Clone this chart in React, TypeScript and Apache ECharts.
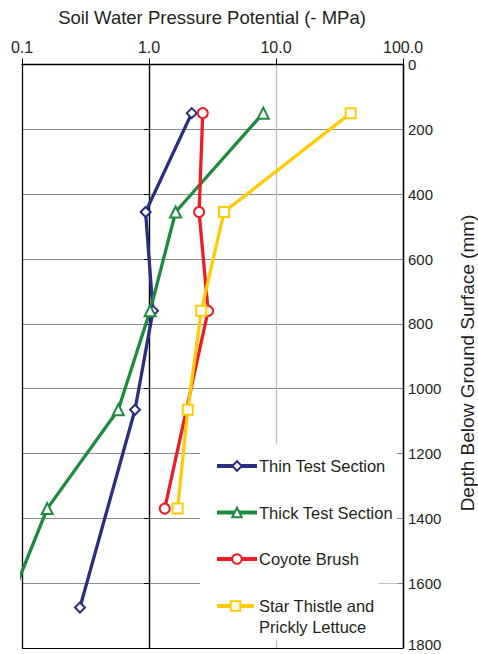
import React, { useEffect, useRef } from "react";
import * as echarts from "echarts";

// ---- data ----
const xTicks = ["0.1", "1.0", "10.0", "100.0"];
const depthTicks = [0, 200, 400, 600, 800, 1000, 1200, 1400, 1600, 1800];

const thinName = "Thin Test Section";
const thinDepth = [150, 455, 760, 1065, 1675];
const thinPsi = [2.17, 0.94, 1.075, 0.776, 0.286];

const thickName = "Thick Test Section";
const thickDepth = [150, 455, 760, 1065, 1370, 1675];
const thickPsi = [7.94, 1.62, 1.02, 0.573, 0.158, 0.077];

const coyoteName = "Coyote Brush";
const coyoteDepth = [150, 455, 760, 1370];
const coyotePsi = [2.65, 2.48, 2.92, 1.33];

const starName = "Star Thistle and Prickly Lettuce";
const starDepth = [150, 455, 760, 1065, 1370];
const starPsi = [38.7, 3.9, 2.58, 2.02, 1.68];

const FONT = "'Liberation Sans', Arial, Helvetica, sans-serif";
const INK = "#231F20";

const pairs = (xs: number[], ys: number[]) => xs.map((x, i) => [x, ys[i]]);

export default function App() {
  const ref = useRef<HTMLDivElement>(null);

  useEffect(() => {
    if (!ref.current) return;
    const chart = echarts.init(ref.current, null, { renderer: "svg" });

    const mkSeries = (name: string, xs: number[], ys: number[], color: string, symbol: string, size: number) => ({
      name,
      type: "line",
      data: pairs(xs, ys),
      symbol,
      symbolSize: size,
      clip: true,
      lineStyle: { color, width: 3.3 },
      itemStyle: { color, borderColor: color, borderWidth: 1.2 },
      z: 3,
    });

    const legendText = { fontSize: 16.5, fontFamily: FONT, color: INK, lineHeight: 21 };

    chart.setOption({
      animation: false,
      backgroundColor: "#fff",
      textStyle: { fontFamily: FONT, color: INK },
      graphic: [
        {
          type: "text",
          x: 212,
          y: 17,
          style: {
            text: "Soil Water Pressure Potential (- MPa)",
            font: `18.5px ${FONT}`,
            fill: INK,
            textAlign: "center",
            textVerticalAlign: "middle",
          },
        },
        {
          type: "text",
          x: 467,
          y: 363,
          rotation: Math.PI / 2,
          style: {
            text: "Depth Below Ground Surface (mm)",
            font: `19px ${FONT}`,
            fill: INK,
            textAlign: "center",
            textVerticalAlign: "middle",
          },
        },
      ],
      grid: { left: 22, right: 75, top: 64.5, bottom: 6, containLabel: false, outerBoundsMode: "none" },
      xAxis: {
        type: "log",
        logBase: 10,
        position: "top",
        min: 0.1,
        max: 100,
        axisLine: { show: true, lineStyle: { color: "#000", width: 1.3 } },
        axisTick: { show: true, inside: false, length: 6, lineStyle: { color: "#000" }, interval: (i: number) => i !== 2 },
        axisLabel: {
          fontSize: 16,
          fontFamily: FONT,
          color: INK,
          margin: 9,
          formatter: (v: number) => {
            const idx = Math.round(Math.log10(v)) + 1;
            return xTicks[idx] ?? v.toFixed(1);
          },
        },
        splitLine: {
          show: true,
          lineStyle: { color: ["#000", "rgba(0,0,0,0)", "#bdbdbd", "#000"], width: 1.3 },
        },
      },
      yAxis: [
        {
          type: "value",
          position: "right",
          inverse: true,
          min: 0,
          max: 1800,
          interval: 200,
          axisLine: { show: true, lineStyle: { color: "#000", width: 1.3 } },
          axisTick: { show: false },
          axisLabel: {
            fontSize: 15,
            fontFamily: FONT,
            color: INK,
            margin: 5,
            formatter: (v: number) => {
              const t = String(depthTicks[Math.round(v / 200)] ?? v);
              return v >= 1800 ? `{last|${t}}` : t;
            },
            rich: { last: { fontSize: 15, fontFamily: FONT, color: INK, padding: [0, 0, 8, 0] } },
          },
          splitLine: {
            show: true,
            lineStyle: {
              color: ["#000", "#8c8c8c", "#8c8c8c", "#8c8c8c", "#8c8c8c", "#8c8c8c", "#8c8c8c", "#8c8c8c", "#8c8c8c", "#000"],
              width: 1,
            },
          },
        },
        {
          type: "value",
          position: "left",
          offset: -127,
          inverse: true,
          min: 0,
          max: 1800,
          interval: 200,
          axisLine: { show: true, onZero: false, lineStyle: { color: "#000", width: 1.4 } },
          axisTick: { show: true, inside: false, length: 5, lineStyle: { color: "#000" } },
          axisLabel: { show: false },
          splitLine: { show: false },
        },
      ],
      legend: [
        {
          orient: "vertical",
          left: 200,
          top: 443.5,
          padding: [12, 4, 14, 15],
          backgroundColor: "#fff",
          itemWidth: 40,
          itemHeight: 12,
          itemGap: 25.5,
          lineStyle: { width: 4 },
          textStyle: { ...legendText, padding: [0, 0, 0, -3] },
          data: [thinName, thickName, coyoteName],
        },
        {
          orient: "vertical",
          left: 200,
          top: 569.5,
          padding: [5, 4, 3, 15],
          backgroundColor: "#fff",
          itemWidth: 37,
          itemHeight: 12,
          lineStyle: { width: 4 },
          textStyle: { ...legendText },
          formatter: (name: string) => (name === starName ? "\nStar Thistle and\nPrickly Lettuce" : name),
          data: [starName],
        },
      ],
      series: [
        mkSeries(thinName, thinPsi, thinDepth, "#2B2E7F", "emptyDiamond", 10),
        mkSeries(thickName, thickPsi, thickDepth, "#1D8A3F", "emptyTriangle", 11),
        mkSeries(coyoteName, coyotePsi, coyoteDepth, "#EE1D25", "emptyCircle", 10),
        mkSeries(starName, starPsi, starDepth, "#FFCB05", "emptyRect", 10),
      ],
    });

    return () => chart.dispose();
  }, []);

  return (
    <div
      ref={ref}
      style={{ position: "fixed", left: 0, top: 0, width: 478, height: 654 }}
    />
  );
}
